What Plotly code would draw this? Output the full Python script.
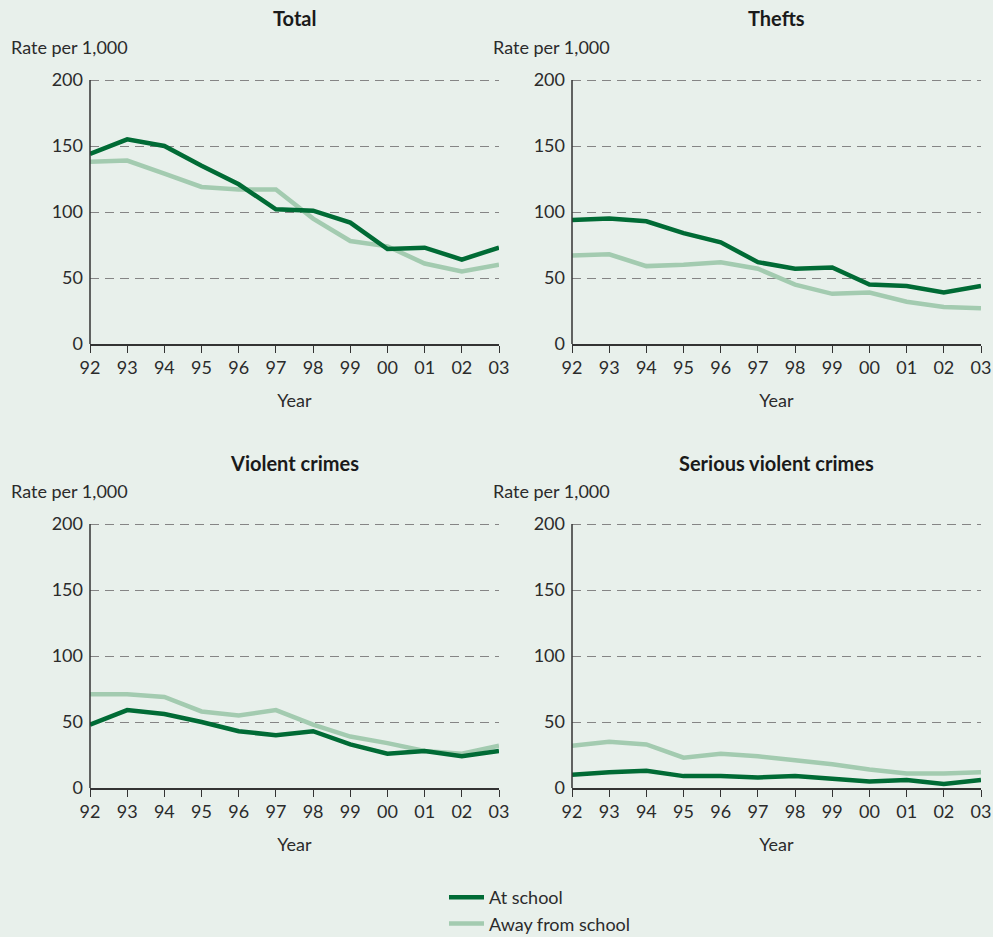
import plotly.graph_objects as go

years = ["92", "93", "94", "95", "96", "97", "98", "99", "00", "01", "02", "03"]
panel_titles = ["Total", "Thefts", "Violent crimes", "Serious violent crimes"]

total_school = [144, 155, 150, 135, 121, 102, 101, 92, 72, 73, 64, 73]
total_away = [138, 139, 129, 119, 117, 117, 95, 78, 74, 61, 55, 60]
thefts_school = [94, 95, 93, 84, 77, 62, 57, 58, 45, 44, 39, 44]
thefts_away = [67, 68, 59, 60, 62, 57, 45, 38, 39, 32, 28, 27]
violent_school = [48, 59, 56, 50, 43, 40, 43, 33, 26, 28, 24, 28]
violent_away = [71, 71, 69, 58, 55, 59, 48, 39, 34, 28, 26, 32]
serious_school = [10, 12, 13, 9, 9, 8, 9, 7, 5, 6, 3, 6]
serious_away = [32, 35, 33, 23, 26, 24, 21, 18, 14, 11, 11, 12]

series = [
    (total_school, total_away),
    (thefts_school, thefts_away),
    (violent_school, violent_away),
    (serious_school, serious_away),
]

W, H = 993, 937
BG = "#e8f0eb"
DARK = "#006b35"
LIGHT = "#a3cbb0"
TXT = "#2b2b2b"
FONT = "Lato"
FS = 18
YMAX = 205  # extra headroom so the 200 gridline is drawn
PX_PER_UNIT = 264 / 200

# pixel boxes (left, right, top-of-200, bottom)
boxes = [
    (90, 499, 80, 344),
    (572, 981, 80, 344),
    (90, 499, 524, 788),
    (572, 981, 524, 788),
]
title_y = [18, 18, 463, 463]

fig = go.Figure()
annotations = []
layout_axes = {}
for i, ((school, away), (l, r, t, b)) in enumerate(zip(series, boxes)):
    n = i + 1
    xa = "x" if n == 1 else f"x{n}"
    ya = "y" if n == 1 else f"y{n}"
    fig.add_trace(go.Scatter(x=list(range(len(years))), y=away, mode="lines",
                             line=dict(color=LIGHT, width=4.5), name="Away from school",
                             xaxis=xa, yaxis=ya, showlegend=False))
    fig.add_trace(go.Scatter(x=list(range(len(years))), y=school, mode="lines",
                             line=dict(color=DARK, width=4.5), name="At school",
                             xaxis=xa, yaxis=ya, showlegend=False))
    xkey = "xaxis" if n == 1 else f"xaxis{n}"
    ykey = "yaxis" if n == 1 else f"yaxis{n}"
    top_px = t - (YMAX - 200) * PX_PER_UNIT
    layout_axes[xkey] = dict(
        domain=[l / W, r / W], anchor=ya, range=[0, len(years) - 1],
        tickmode="array", tickvals=list(range(len(years))), ticktext=years,
        showgrid=False, zeroline=False, showline=True, linecolor="#333333", linewidth=1.5,
        ticks="outside", ticklen=7, tickcolor="#333333", tickwidth=1.2,
        tickfont=dict(family=FONT, size=FS, color=TXT),
        title=dict(text="Year", font=dict(family=FONT, size=FS, color=TXT), standoff=17),
        automargin=False,
    )
    layout_axes[ykey] = dict(
        domain=[1 - b / H, 1 - top_px / H], anchor=xa, range=[0, YMAX],
        tickmode="array", tickvals=[0, 50, 100, 150, 200],
        showgrid=True, gridcolor="#858585", gridwidth=1.1, griddash="9px,6px",
        zeroline=False, showline=False,
        ticks="", ticklabelstandoff=6, tickfont=dict(family=FONT, size=FS, color=TXT),
        automargin=False,
    )
    cx = (l + r) / 2 / W
    annotations.append(dict(text=f"<b>{panel_titles[i]}</b>", x=cx, y=1 - title_y[i] / H,
                            xref="paper", yref="paper", showarrow=False,
                            font=dict(family=FONT, size=20, color="#1a1a1a"),
                            xanchor="center", yanchor="middle"))
    annotations.append(dict(text="Rate per 1,000", x=(l - 81) / W, y=1 - (t - 33) / H,
                            xref="paper", yref="paper", showarrow=False,
                            font=dict(family=FONT, size=FS, color=TXT),
                            xanchor="left", yanchor="middle"))

# y axis lines spanning 0..200 only
shapes = []
for i in range(4):
    n = i + 1
    xa = "x" if n == 1 else f"x{n}"
    ya = "y" if n == 1 else f"y{n}"
    shapes.append(dict(type="line", xref=f"{xa} domain", yref=ya, x0=0, x1=0, y0=0, y1=200,
                       line=dict(color="#333333", width=1.5)))

# legend entries
fig.add_trace(go.Scatter(x=[None], y=[None], mode="lines", line=dict(color=DARK, width=4.5),
                         name="At school", showlegend=True))
fig.add_trace(go.Scatter(x=[None], y=[None], mode="lines", line=dict(color=LIGHT, width=4.5),
                         name="Away from school", showlegend=True))

fig.update_layout(
    width=W, height=H, paper_bgcolor=BG, plot_bgcolor=BG,
    margin=dict(l=0, r=0, t=0, b=0, autoexpand=False),
    annotations=annotations,
    shapes=shapes,
    legend=dict(x=444 / W, y=1 - 879 / H, xanchor="left", yanchor="top",
                font=dict(family=FONT, size=FS, color=TXT), bgcolor="rgba(0,0,0,0)",
                tracegroupgap=0, itemwidth=35),
    **layout_axes,
)

fig.write_html("out.html", config={"displayModeBar": False},
               post_script="document.body.style.margin='0';document.body.style.overflow='hidden';")
